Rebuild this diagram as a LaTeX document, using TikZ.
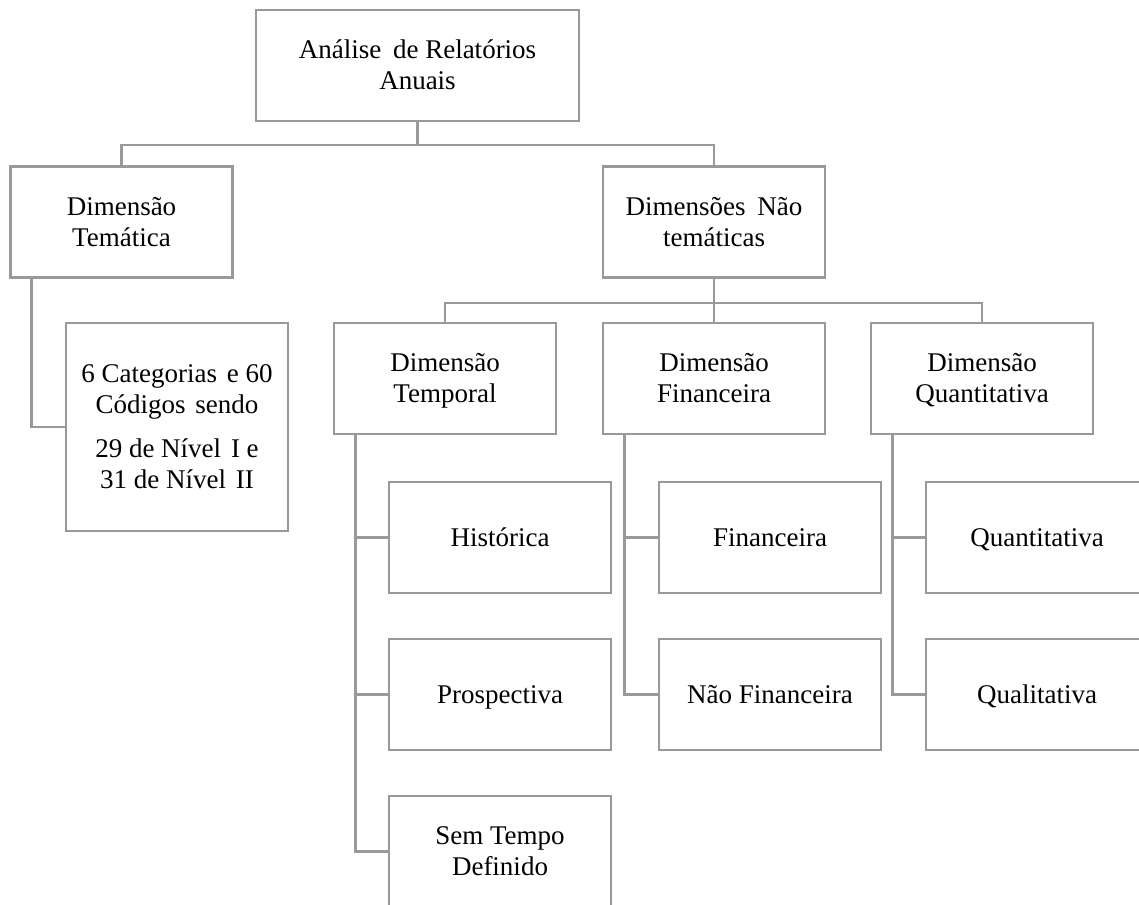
\documentclass[tikz,border=0pt]{standalone}
\usepackage{fontspec}
\setmainfont{Liberation Serif}
\usetikzlibrary{calc}
\definecolor{linegray}{HTML}{999999}
% invisible line strut: keeps every text line the same height and depth
\newcommand\bx{\rule[-7pt]{0pt}{31pt}}
\tikzset{
  box/.style={draw=linegray, line width=2.2pt, fill=white,
    minimum width=222pt, minimum height=111pt, inner sep=0pt,
    align=center, text=black, font=\fontsize{27}{31}\selectfont},
  link/.style={draw=linegray, line width=2.2pt},
}
\begin{document}
\begin{tikzpicture}[x=1pt,y=-1pt]
\useasboundingbox (0,0) rectangle (1139,904);

% top level
\node[box, minimum width=323pt] (root) at (417.5,65.5) {Análise\hspace{5pt} de Relatórios\bx\\Anuais\bx};

% second level
\node[box] (tem) at (121.5,222) {Dimensão\bx\\Temática\bx};
\node[box] (nt)  at (714,222)   {Dimensões\hspace{5pt} Não\bx\\temáticas\bx};

% thematic branch
\node[box, minimum height=208pt] (codes) at (177,427)
  {6 Categorias\hspace{3pt} e 60\bx\\Códigos\hspace{3pt} sendo\bx\\[13pt]29 de Nível\hspace{3pt} I e\bx\\31 de Nível\hspace{3pt} II\bx};

% non-thematic dimensions
\node[box] (temp)  at (445,378.5) {Dimensão\bx\\Temporal\bx};
\node[box] (fin)   at (714,378.5) {Dimensão\bx\\Financeira\bx};
\node[box] (quant) at (982,378.5) {Dimensão\bx\\Quantitativa\bx};

% leaves
\node[box] (hist)  at (500,537.5)  {Histórica\bx};
\node[box] (prosp) at (500,694.5)  {Prospectiva\bx};
\node[box] (sem)   at (500,851.5)  {Sem Tempo\bx\\Definido\bx};
\node[box] (finf)  at (770,537.5)  {Financeira\bx};
\node[box] (nfin)  at (770,694.5)  {Não Financeira\bx};
\node[box] (qtt)   at (1037,537.5) {Quantitativa\bx};
\node[box] (qual)  at (1037,694.5) {Qualitativa\bx};

% connectors
\draw[link] (root.south) -- ++(0,23) -| (tem.north);
\draw[link] (root.south) -- ++(0,23) -| (nt.north);
\draw[link] (nt.south) -- ++(0,24) -| (temp.north);
\draw[link] (nt.south) -- (fin.north);
\draw[link] (nt.south) -- ++(0,24) -| (quant.north);

\draw[link] ($(tem.south west)+(22,0)$) |- (codes.west);

\draw[link] ($(temp.south west)+(22.5,0)$) |- (hist.west);
\draw[link] ($(temp.south west)+(22.5,0)$) |- (prosp.west);
\draw[link] ($(temp.south west)+(22.5,0)$) |- (sem.west);

\draw[link] ($(fin.south west)+(22.5,0)$) |- (finf.west);
\draw[link] ($(fin.south west)+(22.5,0)$) |- (nfin.west);

\draw[link] ($(quant.south west)+(22.5,0)$) |- (qtt.west);
\draw[link] ($(quant.south west)+(22.5,0)$) |- (qual.west);
\end{tikzpicture}
\end{document}
